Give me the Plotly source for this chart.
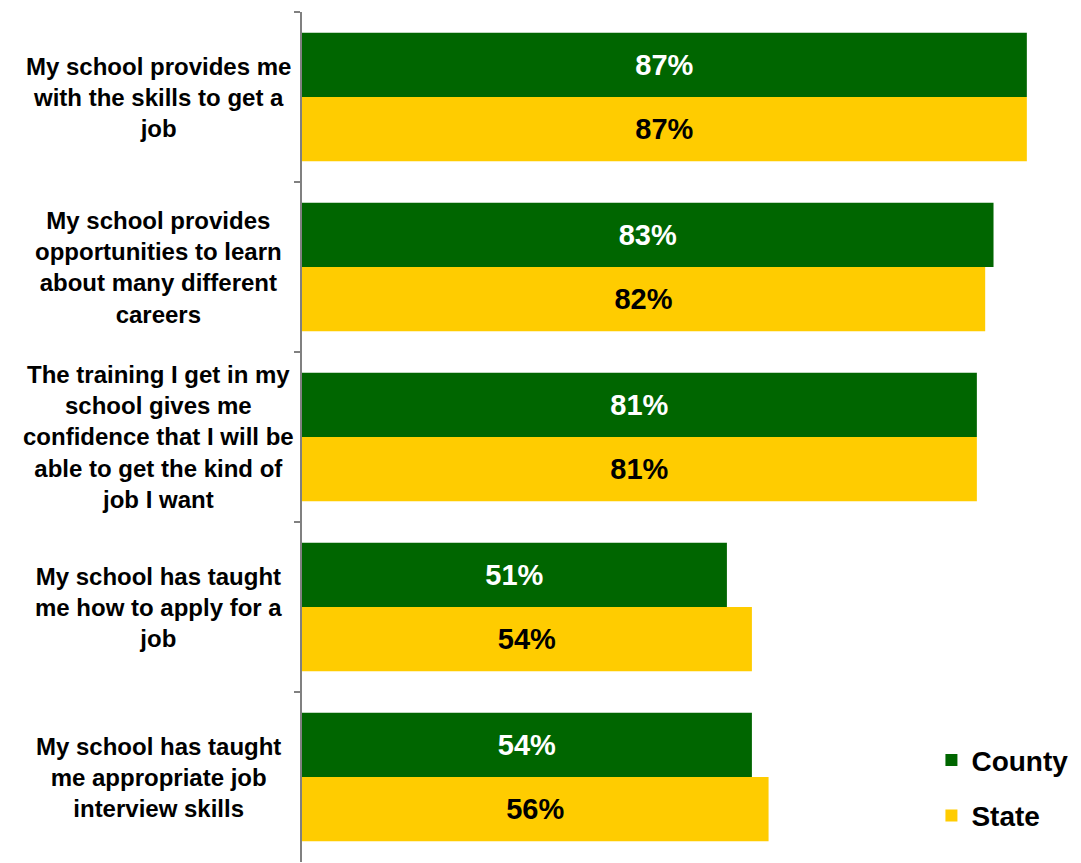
import plotly.graph_objects as go

categories = [
    "My school provides me<br>with the skills to get a<br>job",
    "My school provides<br>opportunities to learn<br>about many different<br>careers",
    "The training I get in my<br>school gives me<br>confidence that I will be<br>able to get the kind of<br>job I want",
    "My school has taught<br>me how to apply for a<br>job",
    "My school has taught<br>me appropriate job<br>interview skills",
]
county = [87, 83, 81, 51, 54]
state = [87, 82, 81, 54, 56]

FONT = "Liberation Sans, Arial, sans-serif"
GREEN = "#006600"
YELLOW = "#FFCC00"

fig = go.Figure()
fig.add_trace(go.Bar(
    y=categories, x=county, name="County", orientation="h",
    marker=dict(color=GREEN, line=dict(width=0)),
    texttemplate="<b>%{x}%</b>", textposition="inside", insidetextanchor="middle",
    textfont=dict(color="white", size=29, family=FONT),
    legendgroup="a",
))
fig.add_trace(go.Bar(
    y=categories, x=state, name="State", orientation="h",
    marker=dict(color=YELLOW, line=dict(width=0)),
    texttemplate="<b>%{x}%</b>", textposition="inside", insidetextanchor="middle",
    textfont=dict(color="black", size=29, family=FONT),
    legendgroup="b",
))

annotations = []
for c in categories:
    annotations.append(dict(
        x=-0.184, xref="paper", y=c, yref="y",
        text="<b>" + c + "</b>", showarrow=False, align="center",
        xanchor="center", yanchor="middle",
        font=dict(size=24, color="black", family=FONT),
    ))

# page body has an 8px margin, so the figure is sized to fill the rest
fig.update_layout(
    width=1073, height=855,
    margin=dict(l=294, r=0, t=4, b=1),
    paper_bgcolor="white", plot_bgcolor="white",
    barmode="group", bargap=0.245, bargroupgap=0,
    font=dict(family=FONT, color="black"),
    showlegend=True,
    legend=dict(
        x=0.808, y=0.149, xanchor="left", yanchor="top",
        font=dict(size=28, family=FONT, color="black", weight="bold"),
        bgcolor="rgba(0,0,0,0)", traceorder="grouped", tracegroupgap=16,
        itemwidth=30,
    ),
    xaxis=dict(range=[0, 93.5], visible=False, fixedrange=True),
    yaxis=dict(
        autorange="reversed", showline=True, linecolor="#808080", linewidth=2,
        ticks="outside", ticklen=6, tickcolor="#808080", tickwidth=2,
        tickson="boundaries", showticklabels=False, showgrid=False,
        zeroline=False,
    ),
    annotations=annotations,
)

fig.write_html("out.html")
